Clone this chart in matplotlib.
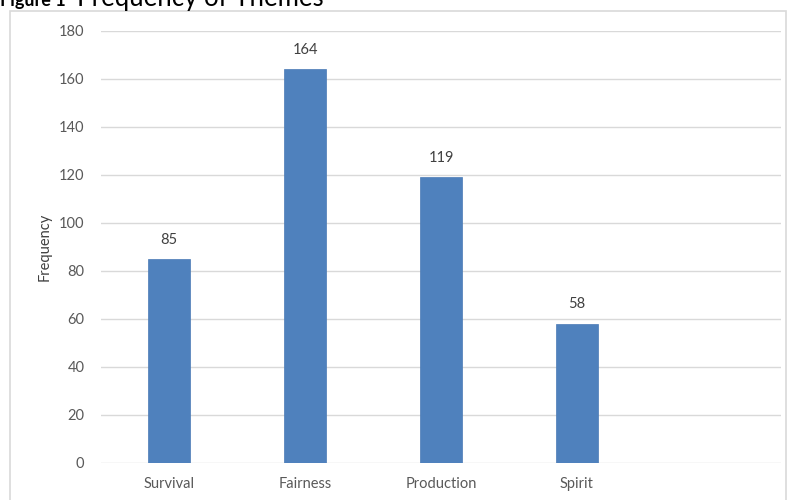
import matplotlib.pyplot as plt
from matplotlib.patches import Rectangle

# 数据
themes = ['Survival', 'Fairness', 'Production', 'Spirit', '']
counts = [85, 164, 119, 58, None]
y_ticks = [0, 20, 40, 60, 80, 100, 120, 140, 160, 180]

plt.rcParams['font.family'] = ['Lato', 'DejaVu Sans']

W, H = 790, 500
fig = plt.figure(figsize=(W / 100, H / 100), dpi=100)

# 外框
fig.patches.append(Rectangle((10 / W, -0.1), 776 / W, 1.1 - 11 / H,
                             transform=fig.transFigure, fill=False,
                             edgecolor='#d9d9d9', linewidth=1.2))

ax = fig.add_axes([101 / W, 1 - 463 / H, 680 / W, 432 / H])

xs = list(range(len(themes)))
vals = [c for c in counts if c is not None]
bars = ax.bar(xs[:len(vals)], vals, width=0.31, color='#4f81bd',
              edgecolor='#4a7ab5', linewidth=0.5, zorder=3)
for b, v in zip(bars, vals):
    ax.annotate(str(v), (b.get_x() + b.get_width() / 2, v),
                xytext=(0, 9), textcoords='offset points',
                ha='center', va='bottom', fontsize=10.5, color='#404040')

ax.set_xlim(-0.5, len(themes) - 0.5)
ax.set_ylim(0, 180)
ax.set_yticks(y_ticks)
ax.set_xticks(xs)
ax.set_xticklabels(themes)
ax.yaxis.grid(True, color='#d9d9d9', linewidth=1, zorder=0)
for s in ax.spines.values():
    s.set_visible(False)
ax.tick_params(length=0, colors='#595959', labelsize=10.5)
ax.tick_params(axis='x', pad=10)
ax.tick_params(axis='y', pad=12)
ax.set_ylabel('Frequency', fontsize=10.5, color='#404040', labelpad=5)

# 标题（上方被截断）
fig.text(0, 1 - 6 / H, 'Figure 1', fontsize=13, fontweight='bold',
         color='black', va='baseline', ha='left')
fig.text(77 / W, 1 - 6 / H, 'Frequency of Themes', fontsize=18.5,
         color='black', va='baseline', ha='left')

fig.savefig('out.png', dpi=100)
